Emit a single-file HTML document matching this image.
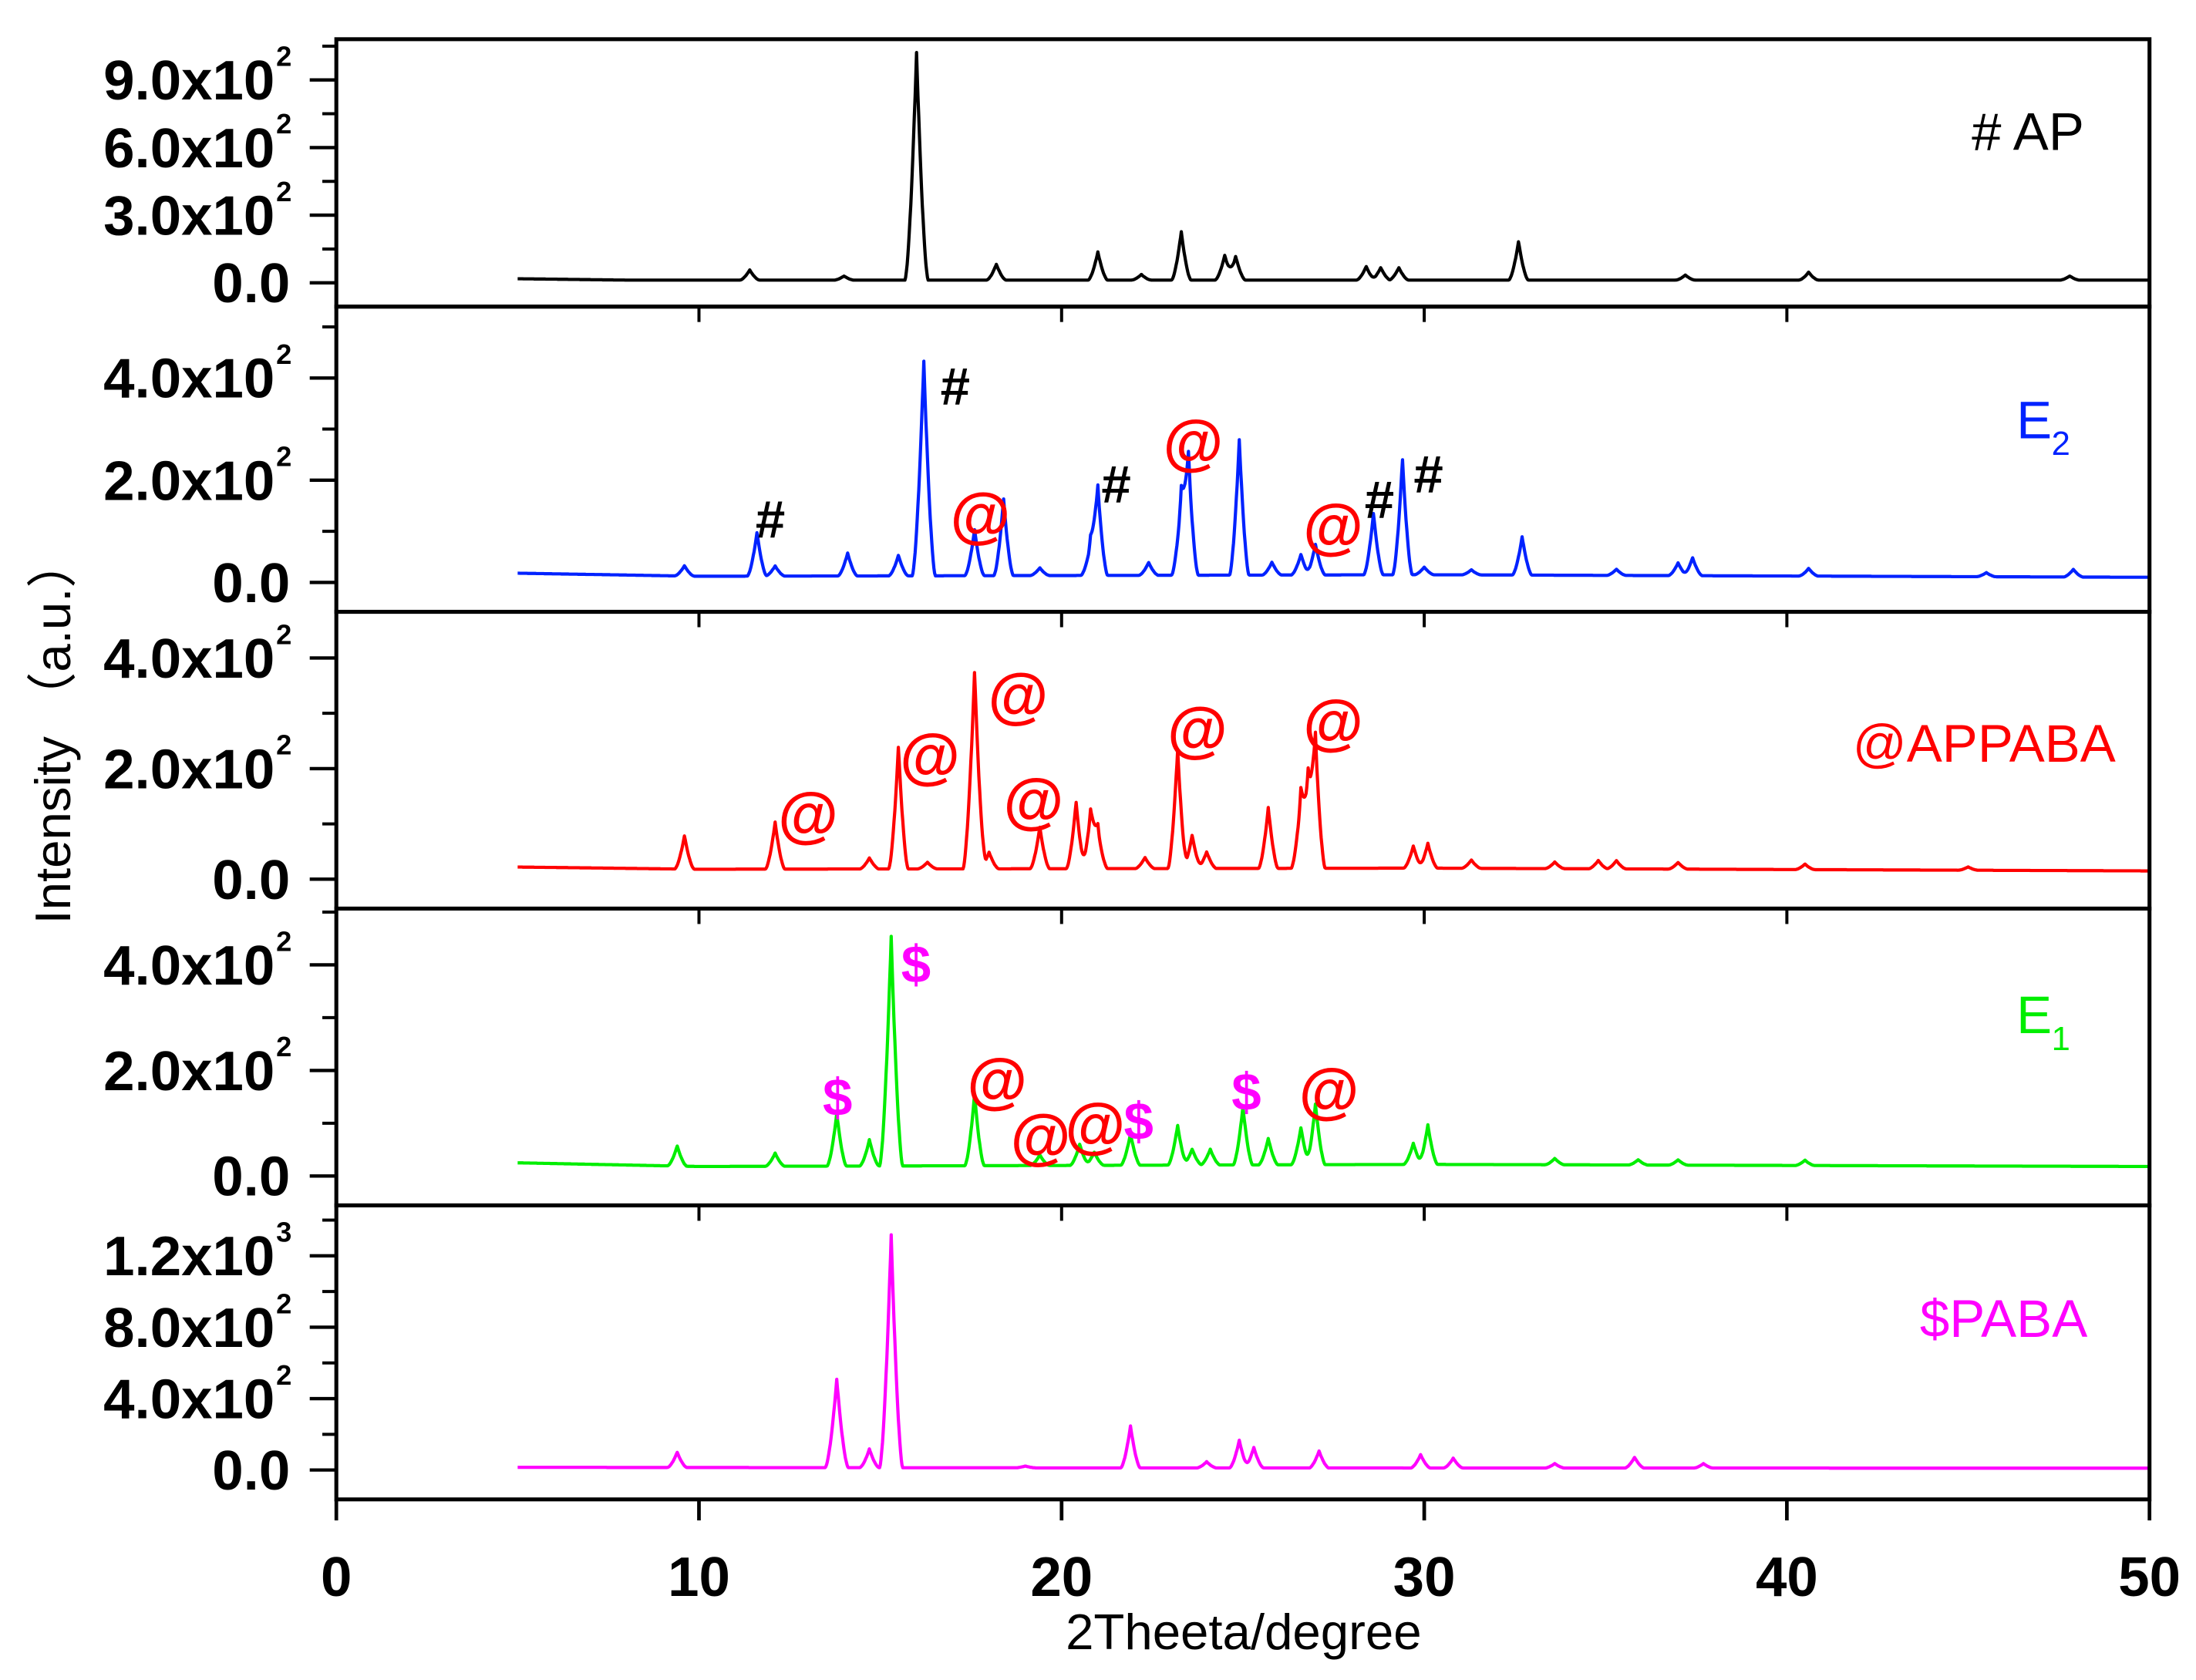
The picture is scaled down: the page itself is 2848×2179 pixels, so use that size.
<!DOCTYPE html>
<html><head><meta charset="utf-8"><style>
html,body{margin:0;padding:0;background:#fff;}
svg{display:block;}
text{font-family:"Liberation Sans","Noto Sans CJK SC",sans-serif;}
</style></head><body>
<svg id="chart" width="2848" height="2179" viewBox="0 0 1568 1200" xmlns="http://www.w3.org/2000/svg"></svg>
<script>
// ---- data ----
const xTicks = [0, 10, 20, 30, 40, 50];
const seriesNames = ["AP", "E2", "APPABA", "E1", "PABA"];
const seriesColors = ["#000000", "#0022ff", "#ff0000", "#00ee00", "#ff00ff"];

const apPeakX = [11.4, 14.0, 16.0, 18.2, 21.0, 22.2, 23.3, 24.5, 24.8, 28.4, 28.8, 29.3, 32.6, 37.2, 40.6, 47.8];
const apPeakY = [45, 18, 1010, 70, 125, 25, 215, 110, 105, 60, 55, 55, 170, 22, 35, 18];
const apBaseX = [5, 8, 20, 50];
const apBaseY = [18, 12, 12, 12];

const e2PeakX = [9.6, 11.6, 12.1, 14.1, 15.5, 16.2, 17.6, 18.4, 19.4, 20.8, 21.0, 22.4, 23.3, 23.5, 24.9, 25.8, 26.6, 27.0, 28.6, 29.4, 30.0, 31.3, 32.7, 35.3, 37.0, 37.4, 40.6, 45.5, 47.9];
const e2PeakY = [20, 85, 20, 45, 40, 420, 90, 150, 15, 60, 170, 25, 150, 225, 265, 25, 40, 60, 120, 225, 15, 10, 75, 12, 25, 35, 15, 8, 15];
const e2BaseX = [5, 10, 30, 50];
const e2BaseY = [18, 12, 15, 10];

const apbPeakX = [9.6, 12.1, 14.7, 15.5, 16.3, 17.6, 18.0, 19.4, 20.4, 20.8, 21.0, 22.3, 23.2, 23.6, 24.0, 25.7, 26.6, 26.8, 27.0, 29.7, 30.1, 31.3, 33.6, 34.8, 35.3, 37.0, 40.5, 45.0];
const apbPeakY = [60, 85, 20, 220, 12, 355, 30, 75, 120, 100, 70, 20, 215, 60, 30, 110, 130, 140, 230, 40, 45, 15, 12, 15, 15, 12, 10, 6];
const apbBaseX = [5, 10, 30, 50];
const apbBaseY = [22, 18, 20, 15];

const e1PeakX = [9.4, 12.1, 13.8, 14.7, 15.3, 17.6, 19.4, 20.5, 20.9, 21.9, 23.2, 23.6, 24.1, 25.0, 25.7, 26.6, 27.0, 29.7, 30.1, 33.6, 35.9, 37.0, 40.5];
const e1PeakY = [38, 25, 100, 50, 435, 135, 20, 40, 25, 60, 75, 30, 30, 110, 50, 70, 115, 40, 75, 12, 10, 10, 10];
const e1BaseX = [5, 10, 30, 50];
const e1BaseY = [25, 18, 22, 18];

const pabaPeakX = [9.4, 13.8, 14.7, 15.3, 19.0, 21.9, 24.0, 24.9, 25.3, 27.1, 29.9, 30.8, 33.6, 35.8, 37.7];
const pabaPeakY = [85, 495, 105, 1305, 10, 235, 35, 155, 115, 95, 75, 55, 25, 60, 25];
const pabaBaseX = [5, 20, 50];
const pabaBaseY = [15, 12, 10];

const ap_ticks = [0, 300, 600, 900];
const ap_tickLabels = ["0.0", "3.0x10", "6.0x10", "9.0x10"];
const ap_tickExp = ["", "2", "2", "2"];
const ap_minor = [150, 450, 750, 1050];
const e2_ticks = [0, 200, 400];
const e2_tickLabels = ["0.0", "2.0x10", "4.0x10"];
const e2_tickExp = ["", "2", "2"];
const e2_minor = [100, 300, 500];
const apb_ticks = [0, 200, 400];
const apb_tickLabels = ["0.0", "2.0x10", "4.0x10"];
const apb_tickExp = ["", "2", "2"];
const apb_minor = [100, 300];
const e1_ticks = [0, 200, 400];
const e1_tickLabels = ["0.0", "2.0x10", "4.0x10"];
const e1_tickExp = ["", "2", "2"];
const e1_minor = [100, 300, 500];
const paba_ticks = [0, 400, 800, 1200];
const paba_tickLabels = ["0.0", "4.0x10", "8.0x10", "1.2x10"];
const paba_tickExp = ["", "2", "2", "3"];
const paba_minor = [200, 600, 1000, 1400];

// ---- layout ----
const NS = "http://www.w3.org/2000/svg";
const svg = document.getElementById("chart");
const L = 240, R = 1535;
const xScale = v => L + (v - 0) / 50 * (R - L);
const panels = [
  {top:28, bot:219, zero:202, per:0.161, px:apPeakX, py:apPeakY, bx:apBaseX, by:apBaseY, t:ap_ticks, tl:ap_tickLabels, te:ap_tickExp, m:ap_minor},
  {top:219, bot:437, zero:416, per:0.365, px:e2PeakX, py:e2PeakY, bx:e2BaseX, by:e2BaseY, t:e2_ticks, tl:e2_tickLabels, te:e2_tickExp, m:e2_minor},
  {top:437, bot:649, zero:628, per:0.395, px:apbPeakX, py:apbPeakY, bx:apbBaseX, by:apbBaseY, t:apb_ticks, tl:apb_tickLabels, te:apb_tickExp, m:apb_minor},
  {top:649, bot:861, zero:840, per:0.377, px:e1PeakX, py:e1PeakY, bx:e1BaseX, by:e1BaseY, t:e1_ticks, tl:e1_tickLabels, te:e1_tickExp, m:e1_minor},
  {top:861, bot:1071, zero:1050, per:0.1275, px:pabaPeakX, py:pabaPeakY, bx:pabaBaseX, by:pabaBaseY, t:paba_ticks, tl:paba_tickLabels, te:paba_tickExp, m:paba_minor}
];
function mk(tag, attrs, parent){const e=document.createElementNS(NS,tag);for(const k in attrs)e.setAttribute(k,attrs[k]);(parent||svg).appendChild(e);return e;}
function interp(xs, ys, x){if(x<=xs[0])return ys[0];for(let i=1;i<xs.length;i++){if(x<=xs[i]){const f=(x-xs[i-1])/(xs[i]-xs[i-1]);return ys[i-1]+f*(ys[i]-ys[i-1]);}}return ys[ys.length-1];}

panels.forEach((p, i) => {
  const yS = v => p.zero - v * p.per;
  let d = "";
  for (let x = 5; x <= 50.0001; x += 0.02) {
    let v = interp(p.bx, p.by, x);
    for (let k = 0; k < p.px.length; k++) {
      const w = p.py[k] > 300 ? 0.32 : 0.27;
      const t = 1 - Math.abs(x - p.px[k]) / w;
      if (t > 0) v += p.py[k] * Math.pow(t, 1.6);
    }
    d += (d ? "L" : "M") + xScale(x).toFixed(1) + "," + Math.max(p.top + 2, yS(v)).toFixed(1);
  }
  const path = mk("path", {d:d, fill:"none", stroke:seriesColors[i], "stroke-width":2.3, "stroke-linejoin":"round"});
  
  
  p.t.forEach((v, k) => {
    const y = yS(v);
    const tk = mk("line", {x1:221, x2:240, y1:y, y2:y, stroke:"#000", "stroke-width":2.4});
    
    
    const lx = p.te[k] ? 196 : 207;
    const tx = mk("text", {x:lx, y:y + 14, "text-anchor":"end", "font-size":40, "font-weight":"bold"});
    tx.textContent = p.tl[k];
    
    
    if (p.te[k]) {
      const s = mk("text", {x:197, y:y - 10, "font-size":20, "font-weight":"bold"});
      s.textContent = p.te[k];
      
      
    }
  });
  p.m.forEach(v => {
    const y = yS(v);
    if (y < p.top || y > p.bot) return;
    const tk = mk("line", {x1:230, x2:240, y1:y, y2:y, stroke:"#000", "stroke-width":2.2});
    
    
  });
  if (i > 0) xTicks.slice(1, 5).forEach(v => {
    const tk = mk("line", {x1:xScale(v), x2:xScale(v), y1:p.top, y2:p.top + 11, stroke:"#000", "stroke-width":2.2});
    
    
  });
  const fr = mk("rect", {x:L, y:p.top, width:R - L, height:p.bot - p.top, fill:"none", stroke:"#000", "stroke-width":2.8});
  
  
});
xTicks.forEach(v => {
  const tk = mk("line", {x1:xScale(v), x2:xScale(v), y1:1071, y2:1086, stroke:"#000", "stroke-width":2.6});
  
  
  const tx = mk("text", {x:xScale(v), y:1140, "text-anchor":"middle", "font-size":40, "font-weight":"bold"});
  tx.textContent = v;
  
  
});
</script>
<script>
const labels = [
  ["# AP", 1408, 107, "#000", 38, "normal", "legend-ap"],
  ["@APPABA", 1323, 544, "#ff0000", 38, "normal", "legend-appaba"],
  ["$PABA", 1371, 955, "#ff00ff", 38, "normal", "legend-paba"]
];
const NS2 = "http://www.w3.org/2000/svg";
const svg2 = document.getElementById("chart");
function mk2(tag, attrs){const e=document.createElementNS(NS2,tag);for(const k in attrs)e.setAttribute(k,attrs[k]);svg2.appendChild(e);return e;}
labels.forEach(l => {
  const t = mk2("text", {x:l[1], y:l[2], fill:l[3], "font-size":l[4], "font-weight":l[5]});
  t.textContent = l[0];
  
  
});
const subs = [["E", "2", 1440, 313, "#0022ff", "legend-e2"], ["E", "1", 1440, 738, "#00ee00", "legend-e1"]];
subs.forEach(s => {
  const t = mk2("text", {x:s[2], y:s[3], fill:s[4], "font-size":38});
  t.textContent = s[0];
  
  
  const u = mk2("text", {x:s[2] + 25, y:s[3] + 12, fill:s[4], "font-size":24});
  u.textContent = s[1];
  
  
});
const marks = [
  ["#",550,370,"#000"],["#",682,275,"#000"],["@",700,368,"#ff0000"],["#",797,345,"#000"],["@",852,316,"#ff0000"],["@",952,376,"#ff0000"],["#",985,356,"#000"],["#",1020,338,"#000"],
  ["@",577,582,"#ff0000"],["@",664,540,"#ff0000"],["@",727,497,"#ff0000"],["@",738,572,"#ff0000"],["@",855,521,"#ff0000"],["@",952,516,"#ff0000"],
  ["$",598,783,"#ff00ff"],["$",654,688,"#ff00ff"],["@",712,772,"#ff0000"],["@",743,812,"#ff0000"],["@",782,804,"#ff0000"],["$",813,800,"#ff00ff"],["$",890,779,"#ff00ff"],["@",949,779,"#ff0000"]
];
marks.forEach(m => {
  const at = m[0] === "@";
  const t = mk2("text", {x:m[1], y:m[2] + (at ? 15 : 14), fill:m[3], "font-size":at ? 44 : 38, "font-weight":"bold", "text-anchor":"middle"});
  t.textContent = m[0];
  
  
});
const xt = mk2("text", {x:888, y:1178, "text-anchor":"middle", "font-size":36});
xt.textContent = "2Theeta/degree";


const yt = mk2("text", {x:0, y:0, "text-anchor":"middle", "font-size":36, transform:"translate(50,522) rotate(-90)"});
yt.textContent = "Intensity （a.u.）";


</script>
</body></html>
